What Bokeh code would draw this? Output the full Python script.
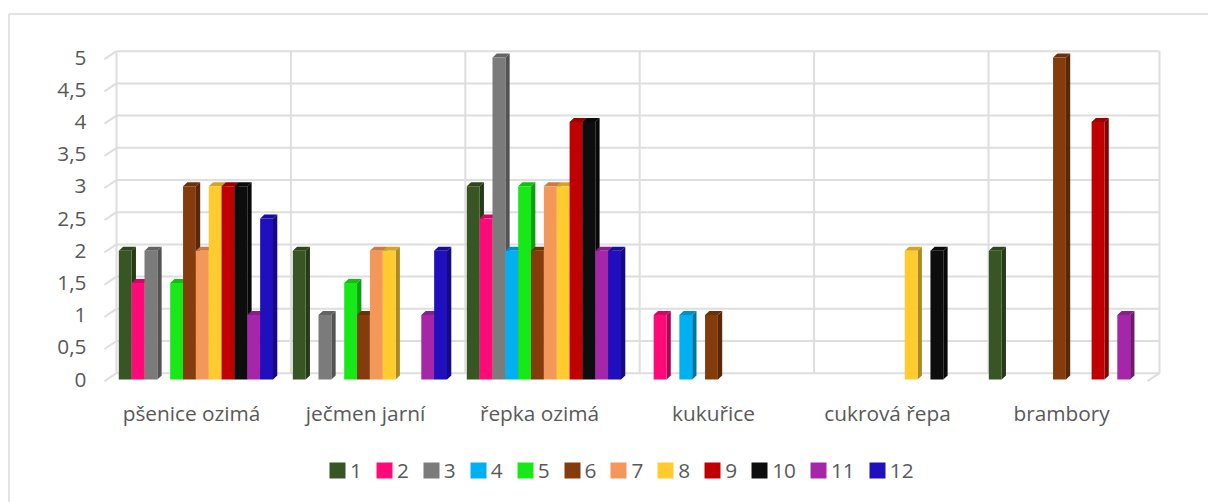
from bokeh.embed import file_html
from bokeh.resources import INLINE
from bokeh.plotting import figure
from bokeh.models import ColumnDataSource, FixedTicker, Legend, LegendItem

# Crop survey: number of answers per crop and month-group
categories = ["pšenice ozimá", "ječmen jarní", "řepka ozimá", "kukuřice", "cukrová řepa", "brambory"]
series_names = ["1", "2", "3", "4", "5", "6", "7", "8", "9", "10", "11", "12"]
s1 = [2, 2, 3, 0, 0, 2]
s2 = [1.5, 0, 2.5, 1, 0, 0]
s3 = [2, 1, 5, 0, 0, 0]
s4 = [0, 0, 2, 1, 0, 0]
s5 = [1.5, 1.5, 3, 0, 0, 0]
s6 = [3, 1, 2, 1, 0, 5]
s7 = [2, 2, 3, 0, 0, 0]
s8 = [3, 2, 3, 0, 2, 0]
s9 = [3, 0, 4, 0, 0, 4]
s10 = [3, 0, 4, 0, 2, 0]
s11 = [1, 1, 2, 0, 0, 1]
s12 = [2.5, 2, 2, 0, 0, 0]
all_series = [s1, s2, s3, s4, s5, s6, s7, s8, s9, s10, s11, s12]
colors = ["#375623", "#FF0A78", "#7B7B7B", "#00B0F0", "#17E817", "#843C0C",
          "#F4985A", "#FFCB2F", "#C00000", "#0D0D0D", "#A626AA", "#1F0FBD"]
y_ticks = [0, 0.5, 1, 1.5, 2, 2.5, 3, 3.5, 4, 4.5, 5]
y_labels = {0: "0", 0.5: "0,5", 1: "1", 1.5: "1,5", 2: "2", 2.5: "2,5", 3: "3",
            3.5: "3,5", 4: "4", 4.5: "4,5", 5: "5"}

TEXT = "#595959"
GRID = "#DEDEDE"
FONT = "Open Sans"
FONT_SIZE = "20.8px"

# Pixel scales of the front plane, used to express the pseudo-3D offsets in data units
W, H = 1208, 502
PX_X = 174.0
PX_Y = 64.4
FRONT_L, FRONT_ZERO = 104, 379


def shade(hex_color, k):
    r, g, b = (int(hex_color[i:i + 2], 16) for i in (1, 3, 5))
    return "#%02x%02x%02x" % (int(r * k), int(g * k), int(b * k))


# The frame fills the page, so the axes sit at fixed positions inside it
p = figure(width=W, height=H, output_backend="svg", toolbar_location=None,
           x_range=(-FRONT_L / PX_X, (W - FRONT_L) / PX_X),
           y_range=((FRONT_ZERO - H) / PX_Y, FRONT_ZERO / PX_Y),
           min_border_left=0, min_border_right=0, min_border_top=0, min_border_bottom=0)
p.outline_line_color = None
p.grid.visible = False
p.background_fill_color = "white"
p.border_fill_color = "white"

# Chart frame: only its top and left edges fall inside the page
edge_x = (8.5 - FRONT_L) / PX_X
edge_y = (FRONT_ZERO - 13.5) / PX_Y
p.segment(x0=[edge_x, edge_x], x1=[(W - FRONT_L) / PX_X, edge_x],
          y0=[edge_y, edge_y], y1=[edge_y, (FRONT_ZERO - H) / PX_Y],
          line_color="#DADADA", line_width=1.5)

# Value axis, read on the front plane
p.yaxis.fixed_location = -4 / PX_X
p.yaxis.ticker = FixedTicker(ticks=y_ticks)
p.yaxis.major_label_overrides = y_labels
p.yaxis.axis_line_color = None
p.yaxis.major_tick_line_color = None
p.yaxis.minor_tick_line_color = None
p.yaxis.major_label_standoff = 8
p.yaxis.major_label_text_font = FONT
p.yaxis.major_label_text_font_size = FONT_SIZE
p.yaxis.major_label_text_color = TEXT

# Category axis
p.xaxis.fixed_location = -4 / PX_Y
p.xaxis.ticker = FixedTicker(ticks=[i + 0.5 for i in range(len(categories))])
p.xaxis.major_label_overrides = {i + 0.5: c for i, c in enumerate(categories)}
p.xaxis.axis_line_color = None
p.xaxis.major_tick_line_color = None
p.xaxis.minor_tick_line_color = None
p.xaxis.major_label_standoff = 9
p.xaxis.major_label_text_font = FONT
p.xaxis.major_label_text_font_size = FONT_SIZE
p.xaxis.major_label_text_color = TEXT

# Back wall and the slanted floor ticks on the left and right
wall_dx = 12 / PX_X
wall_dy = 6.3 / PX_Y
tick_dy = 8 / PX_Y
n_cat = len(categories)
wall_r = (1159 - FRONT_L) / PX_X
top = y_ticks[-1] + wall_dy
bottom = y_ticks[0] + wall_dy
p.segment(x0=[wall_dx] * len(y_ticks), x1=[wall_r] * len(y_ticks),
          y0=[v + wall_dy for v in y_ticks], y1=[v + wall_dy for v in y_ticks],
          line_color=GRID, line_width=2)
p.segment(x0=[0] * len(y_ticks), x1=[wall_dx] * len(y_ticks),
          y0=[v + wall_dy - tick_dy for v in y_ticks], y1=[v + wall_dy for v in y_ticks],
          line_color=GRID, line_width=2)
verticals = [wall_dx + k * 174.4 / PX_X for k in range(n_cat)] + [wall_r]
p.segment(x0=verticals, x1=verticals, y0=[bottom] * len(verticals), y1=[top] * len(verticals),
          line_color=GRID, line_width=2)
p.segment(x0=[wall_r - wall_dx], x1=[wall_r], y0=[bottom - tick_dy], y1=[bottom],
          line_color=GRID, line_width=2)

# Bars: each series draws its side, its top and its front, left to right
bar_w = 12.85 / PX_X
bar_start = 14.3 / PX_X
side_dx = 4.3 / PX_X
side_dy = 4 / PX_Y
legend_items = []
for j, (name, vals, col) in enumerate(zip(series_names, all_series, colors)):
    xs_left = [i + bar_start + j * bar_w for i, v in enumerate(vals) if v > 0]
    heights = [v for v in vals if v > 0]
    xs_right = [x + bar_w for x in xs_left]
    p.patches(xs=[[r, r + side_dx, r + side_dx, r] for r in xs_right],
              ys=[[0, side_dy, h + side_dy, h] for h in heights],
              fill_color=shade(col, 0.68), line_color=None)
    p.patches(xs=[[l, l + side_dx, r + side_dx, r] for l, r in zip(xs_left, xs_right)],
              ys=[[h, h + side_dy, h + side_dy, h] for h in heights],
              fill_color=shade(col, 0.82), line_color=None)
    src = ColumnDataSource(dict(left=xs_left, right=xs_right, top=heights))
    r = p.quad(left="left", right="right", bottom=0, top="top", source=src,
               fill_color=col, line_color=None)
    legend_items.append(LegendItem(label=name, renderers=[r]))

legend = Legend(items=legend_items, orientation="horizontal", location=(327, 18),
                border_line_color=None, background_fill_alpha=0,
                label_text_font=FONT, label_text_font_size=FONT_SIZE,
                label_text_color=TEXT, glyph_width=20, glyph_height=20, label_width=0,
                label_standoff=3, spacing=12, padding=0, margin=0)
p.add_layout(legend, "center")

open("out.html", "w").write(file_html(p, INLINE))
